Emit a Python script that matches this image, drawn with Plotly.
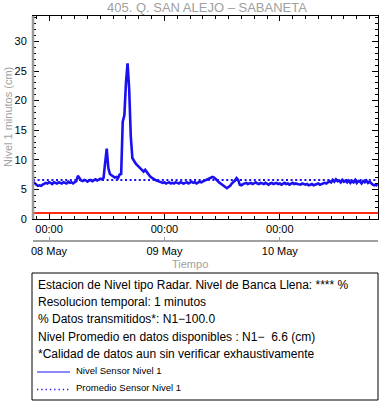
import pandas as pd
import plotly.graph_objects as go

# ---------------- data ----------------
TITLE = "405. Q. SAN ALEJO \u2013 SABANETA"
START = "2024-05-07 20:40"          # first sample (20-minute sampling of the read curve)
STEP_MIN = 20
LEVEL = [
    6.3, 6.1, 5.8, 5.6, 5.7, 5.6, 5.8, 5.9,
    6.1, 6.0, 6.2, 6.1, 5.9, 6.2, 6.1, 6.0, 6.2, 6.1, 6.0, 6.2, 6.1, 6.0, 6.3, 6.1, 6.2, 6.0, 6.2, 6.4,
    7.3, 6.8, 6.5,
    6.4, 6.6, 6.5, 6.3, 6.5, 6.6, 6.4, 6.5, 6.7, 6.5, 6.6, 6.8, 6.7, 6.9,
    9.5, 11.9, 8.6,
    7.6, 7.4, 7.2, 7.0, 7.1, 6.9, 7.5, 7.6,
    16.5, 17.5, 23.0, 26.3, 22.0, 14.0, 10.3,
    9.8, 9.4, 9.1, 8.8, 8.5, 8.2, 8.0, 8.3, 7.9, 7.5, 7.2, 7.0, 6.8, 6.7, 6.5, 6.4,
    6.3, 6.2, 6.1, 6.2, 6.0, 6.1, 6.2, 6.0, 6.1, 6.0, 6.2, 6.1, 6.0, 6.2, 6.1, 6.0, 6.1, 6.2, 6.0, 6.1,
    6.3, 6.1, 6.2, 6.0, 6.2, 6.3, 6.2, 6.4,
    6.5, 6.6, 6.7, 6.8, 6.9, 7.1, 7.0, 6.8,
    6.5, 6.2, 6.0, 5.7, 5.5, 5.3, 5.2,
    5.4, 5.6, 6.0, 6.2, 6.5, 6.9, 6.6, 5.8, 5.7, 5.9,
    6.0, 6.1, 5.9, 6.0, 6.1, 5.9, 6.0, 6.2, 6.0, 5.9, 6.1, 6.0, 5.9, 6.1, 6.0, 5.8, 6.0, 6.1, 5.9, 6.0,
    6.1, 5.9, 6.0, 5.8, 6.0, 6.1, 5.9, 6.0, 5.8, 6.0, 6.1, 5.9, 6.0, 5.9,
    5.9, 5.8, 6.0, 5.9, 5.8, 5.9, 5.7, 5.8, 5.9, 5.7, 5.8, 5.9, 6.0, 5.8, 5.9, 6.0, 6.1, 6.0, 6.2,
    6.4, 6.2, 6.6, 6.3, 6.7, 6.4, 6.5, 6.2, 6.6, 6.3, 6.5,
    6.2, 6.5, 6.1, 6.4, 6.2, 6.6, 6.1, 6.4, 6.3, 6.0, 6.4, 6.2, 6.5, 6.1, 6.3,
    6.0, 5.8, 5.7, 5.8, 5.6,
]
MEAN_LEVEL = 6.6
RED_LEVEL = 1.0
X_RANGE = ["2024-05-07 20:40", "2024-05-10 20:25"]
Y_RANGE = [0, 34.3]
INFO_LINES = [
    "Estacion de Nivel tipo Radar. Nivel de Banca Llena: **** %",
    "Resolucion temporal: 1 minutos",
    "% Datos transmitidos*: N1\u2212100.0",
    "Nivel Promedio en datos disponibles : N1\u2212\u00a0\u00a06.6 (cm)",
    "*Calidad de datos aun sin verificar exhaustivamente",
]
LEGEND_LABELS = ["Nivel Sensor Nivel 1", "Promedio Sensor Nivel 1"]
X_TITLE = "Tiempo"
Y_TITLE = "Nivel 1 minutos (cm)"

times = pd.date_range(START, periods=len(LEVEL), freq=f"{STEP_MIN}min")

# ---------------- geometry ----------------
WIDTH, HEIGHT = 382, 404
ML, MR, MT, MB = 33, 4, 16, 163
PW = WIDTH - ML - MR
PH = HEIGHT - MT - MB
PLOT_BOTTOM = 219
FONT = "Liberation Sans, Arial, sans-serif"
GRAY = "#a0a0a0"
BLUE = "#1a10f0"


def px(xp):
    return (xp - ML) / PW


def py(yp):
    return (HEIGHT - MB - yp) / PH


ydom0 = py(PLOT_BOTTOM)

fig = go.Figure()
fig.add_trace(go.Scatter(x=[times[0], times[-1]], y=[MEAN_LEVEL, MEAN_LEVEL], mode="lines",
                         line=dict(color=BLUE, width=2, dash="2px,2.6px"), hoverinfo="skip"))
fig.add_trace(go.Scatter(x=times, y=LEVEL, mode="lines",
                         line=dict(color=BLUE, width=2.6), hoverinfo="skip"))
fig.add_trace(go.Scatter(x=[times[0]], y=[None], xaxis="x2", yaxis="y",
                         mode="lines", hoverinfo="skip"))

tick0 = "2024-05-08 00:00"
fig.update_layout(
    width=WIDTH, height=HEIGHT, showlegend=False,
    margin=dict(l=ML, r=MR, t=MT, b=MB, pad=0, autoexpand=False),
    paper_bgcolor="white", plot_bgcolor="white",
    font=dict(family=FONT, size=11, color="black"),
    xaxis=dict(type="date", range=X_RANGE, domain=[0, 1], anchor="y", automargin=False,
               tick0=tick0, dtick=86400000, tickformat="%H:%M",
               ticks="inside", ticklen=5, tickcolor="black", tickwidth=1,
               minor=dict(dtick=9600000, tick0=tick0, ticks="inside", ticklen=3,
                          tickcolor="black", showgrid=False),
               showline=True, linecolor="black", linewidth=1, mirror="ticks",
               showgrid=False, zeroline=False, tickfont=dict(size=11)),
    xaxis2=dict(type="date", range=X_RANGE, overlaying="x", anchor="free", position=0,
                automargin=False,
                tick0=tick0, dtick=86400000, tickformat="%d %b",
                ticks="inside", ticklen=3, tickcolor=GRAY, tickwidth=1,
                showline=True, linecolor=GRAY, linewidth=2,
                showgrid=False, zeroline=False, tickfont=dict(size=11)),
    yaxis=dict(range=Y_RANGE, domain=[ydom0, 1], dtick=5, tick0=0, automargin=False,
               ticks="inside", ticklen=6, tickcolor="black", tickwidth=1,
               minor=dict(dtick=1, ticks="inside", ticklen=3, tickcolor="black", showgrid=False),
               showline=True, linecolor="black", linewidth=1, mirror="ticks",
               showgrid=False, zeroline=False, ticklabelstandoff=3, tickfont=dict(size=11)),
)

shapes = [
    dict(type="line", xref="paper", yref="y", x0=0, x1=1, y0=RED_LEVEL, y1=RED_LEVEL,
         line=dict(color="#ff2a10", width=2), layer="above"),
    dict(type="line", xref="paper", yref="paper", x0=0, x1=0, y0=ydom0, y1=1,
         line=dict(color="#9a9a9a", width=2.5), layer="above"),
    dict(type="rect", xref="paper", yref="paper", x0=px(32), x1=px(378), y0=py(273), y1=py(400),
         line=dict(color="black", width=1)),
    dict(type="line", xref="paper", yref="paper", x0=px(37), x1=px(70), y0=py(372), y1=py(372),
         line=dict(color=BLUE, width=1)),
    dict(type="line", xref="paper", yref="paper", x0=px(37), x1=px(70), y0=py(389.5), y1=py(389.5),
         line=dict(color=BLUE, width=1.3, dash="1.3px,3px")),
]
fig.update_layout(shapes=shapes)

ann = [
    dict(text=TITLE, x=px(207), y=py(7.5), font=dict(size=13, color=GRAY)),
    dict(text=Y_TITLE, x=px(8), y=py(117), textangle=-90, font=dict(size=11, color=GRAY)),
    dict(text=X_TITLE, x=px(190), y=py(264), font=dict(size=11, color=GRAY)),
]
for i, line in enumerate(INFO_LINES):
    ann.append(dict(text=line, x=px(36), y=py(285 + i * 17.2), xanchor="left",
                    font=dict(size=12, color="black")))
for i, lab in enumerate(LEGEND_LABELS):
    ann.append(dict(text=lab, x=px(74), y=py(370 + i * 17.5), xanchor="left",
                    font=dict(size=9.5, color="black")))
for a in ann:
    a.setdefault("xanchor", "center")
    a.update(xref="paper", yref="paper", yanchor="middle", showarrow=False)
fig.update_layout(annotations=ann)

fig.write_html("out.html", config={"displayModeBar": False},
               post_script="document.body.style.margin='0';")
